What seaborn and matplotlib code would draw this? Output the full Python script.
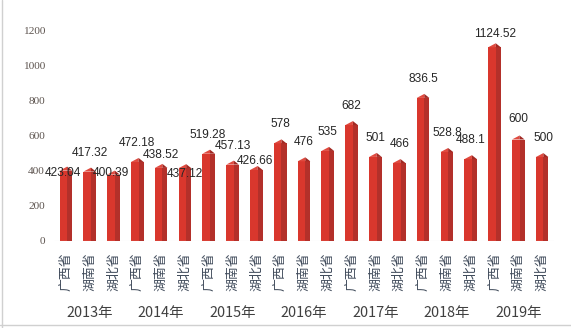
import matplotlib
matplotlib.use("Agg")
import matplotlib.pyplot as plt
import matplotlib.transforms as mtransforms
from matplotlib.patches import Polygon, Rectangle
from matplotlib.lines import Line2D
import seaborn as sns
import pandas as pd

years = ["2013年", "2014年", "2015年", "2016年", "2017年", "2018年", "2019年"]
provinces = ["广西省", "湖南省", "湖北省"]
values = [423.04, 417.32, 400.39,
          472.18, 438.52, 437.12,
          519.28, 457.13, 426.66,
          578, 476, 535,
          682, 501, 466,
          836.5, 528.8, 488.1,
          1124.52, 600, 500]
value_labels = ["423.04", "417.32", "400.39",
                "472.18", "438.52", "437.12",
                "519.28", "457.13", "426.66",
                "578", "476", "535",
                "682", "501", "466",
                "836.5", "528.8", "488.1",
                "1124.52", "600", "500"]
y_ticks = [0, 200, 400, 600, 800, 1000, 1200]

# label placement style (pixel offsets relative to bar top / centre)
label_dy = [-6, 15, -2, 15, 9, -10, 15, 15, 5, 15, 15, 15, 15, 15, 15, 15, 15, 15, 9, 16, 15]
label_dx = [-3, 0, -3, 0, 0, 0, -1, 0, -1, 0, 0, 0, 0, 0, 0, 0, 1, 0, 1, 0, 1]

rows = []
for yi, yr in enumerate(years):
    for pi, pv in enumerate(provinces):
        idx = yi * 3 + pi
        rows.append({"key": f"{idx:02d}", "prov": pv, "year": yr, "value": values[idx]})
df = pd.DataFrame(rows)

sns.set_theme(style="white")
plt.rcParams["font.family"] = ["Noto Sans CJK SC", "DejaVu Sans"]

W, H = 571, 328
fig = plt.figure(figsize=(W / 100, H / 100), dpi=100)
ax = fig.add_axes([54 / W, (H - 241) / H, 500 / W, 211 / H])

red = "#d9372d"
dark = "#b3302a"
sns.barplot(data=df, x="key", y="value", color=red, width=0.53,
            saturation=1, ax=ax, edgecolor="none")
ax.set_ylim(0, 1200)
ax.set_xlim(-0.5, len(values) - 0.5)

# 3D-like shading and pointed tops
px_per_unit = 211 / 1200
d = 4 / px_per_unit
for p, v in zip(list(ax.patches), values):
    x0 = p.get_x()
    w = p.get_width()
    x1 = x0 + w
    xm = x0 + 0.6 * w
    p.set_height(v - d)
    ax.add_patch(Rectangle((xm, 0), x1 - xm, v - d, facecolor=dark, edgecolor="none", zorder=3))
    ax.add_patch(Polygon([(x0, v - d), (xm, v), (xm, v - d)], closed=True,
                         facecolor="#e04a3f", edgecolor="none", zorder=3))
    ax.add_patch(Polygon([(xm, v - d), (xm, v), (x1, v - d)], closed=True,
                         facecolor="#a22822", edgecolor="none", zorder=3))

# floor line
ax.axhline(0, color="#e3e3e3", lw=0.8, zorder=1)

# data labels
for i, (v, lab) in enumerate(zip(values, value_labels)):
    ax.annotate(lab, (i, v), xytext=(label_dx[i] * 0.72, label_dy[i] * 0.72),
                textcoords="offset points", ha="center", va="center",
                fontsize=8.6, color="#262626", family=["Liberation Sans", "DejaVu Sans"],
                zorder=5)

# axes styling
for s in ax.spines.values():
    s.set_visible(False)
ax.set_yticks(y_ticks)
ax.set_yticklabels([str(t) for t in y_ticks], family=["Liberation Serif", "DejaVu Serif"],
                   fontsize=8.2, color="#5e5550")
ax.tick_params(axis="y", length=0, pad=6.5)
ax.set_xticks(range(len(values)))
ax.set_xticklabels([provinces[i % 3] for i in range(len(values))], rotation=90,
                   fontsize=9.3, color="#3f4a5a", va="top")
ax.tick_params(axis="x", length=0, pad=8)
ax.set_xlabel("")
ax.set_ylabel("")
ax.grid(False)

# year labels
trans = mtransforms.blended_transform_factory(ax.transData, fig.transFigure)
for yi, yr in enumerate(years):
    ax.text(yi * 3 + 1, (H - 313) / H, yr, transform=trans, ha="center", va="center",
            fontsize=10.4, color="#404040", clip_on=False)

# frame lines
fig.add_artist(Line2D([1.5 / W, 1.5 / W], [0, 1], color="#d0d0d0", lw=1, transform=fig.transFigure))
fig.add_artist(Line2D([0, 1], [3.5 / H, 3.5 / H], color="#d0d0d0", lw=1, transform=fig.transFigure))

fig.savefig("out.png", dpi=100, facecolor="white")
